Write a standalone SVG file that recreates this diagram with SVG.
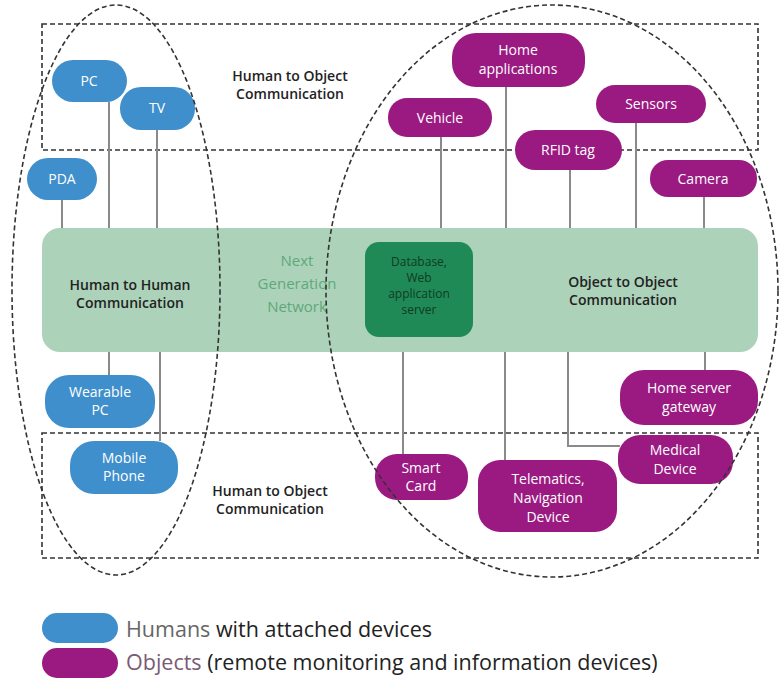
<svg xmlns="http://www.w3.org/2000/svg" width="779" height="679" viewBox="0 0 779 679">
<style>
text{font-family:"Open Sans","Liberation Sans",sans-serif}
.h rect{fill:#3f8fcc}
.o rect{fill:#9b1a82}
.nt{fill:#fff;font-size:14px;text-anchor:middle}
.lbl{fill:#222;font-size:14px;text-anchor:middle;font-weight:600}
.dash{fill:none;stroke:#333;stroke-width:1.6;stroke-dasharray:5 3}
.c line,.c polyline{stroke:#8a8a8a;stroke-width:2;fill:none}
</style>
<rect width="779" height="679" fill="#fff"/>
<g id="zones">
<rect class="dash" x="42" y="24" width="716" height="126"/>
<rect class="dash" x="42" y="433" width="716" height="125"/>
</g>
<g id="network">
<rect x="42" y="228" width="716" height="124" rx="18" fill="#acd3b9"/>
<text x="297" y="266" fill="#5fa87a" font-size="15" text-anchor="middle">Next</text>
<text x="297" y="289" fill="#5fa87a" font-size="15" text-anchor="middle">Generation</text>
<text x="297" y="312" fill="#5fa87a" font-size="15" text-anchor="middle">Network</text>
<text class="lbl" x="130" y="290">Human to Human</text>
<text class="lbl" x="130" y="308">Communication</text>
<text class="lbl" x="623" y="287">Object to Object</text>
<text class="lbl" x="623" y="305">Communication</text>
</g>
<g id="server">
<rect x="365" y="242" width="108" height="95" rx="14" fill="#1f8a55"/>
<text x="419" y="266" fill="#0f3b24" font-size="12" text-anchor="middle">Database,</text>
<text x="419" y="282" fill="#0f3b24" font-size="12" text-anchor="middle">Web</text>
<text x="419" y="298" fill="#0f3b24" font-size="12" text-anchor="middle">application</text>
<text x="419" y="314" fill="#0f3b24" font-size="12" text-anchor="middle">server</text>
</g>
<g class="c" id="connectors">
<line x1="62" y1="200" x2="62" y2="228"/>
<line x1="109" y1="102" x2="109" y2="228"/>
<line x1="157" y1="130" x2="157" y2="228"/>
<line x1="109" y1="352" x2="109" y2="375"/>
<line x1="160" y1="352" x2="160" y2="441"/>
<line x1="441" y1="137" x2="441" y2="228"/>
<line x1="506" y1="87" x2="506" y2="228"/>
<line x1="570" y1="170" x2="570" y2="228"/>
<line x1="636" y1="123" x2="636" y2="228"/>
<line x1="704" y1="197" x2="704" y2="228"/>
<line x1="705" y1="352" x2="705" y2="370"/>
<line x1="403" y1="352" x2="403" y2="454"/>
<line x1="505" y1="352" x2="505" y2="460"/>
<polyline points="568,352 568,446 620,446"/>
</g>
<g id="pc" class="h"><rect x="52" y="60" width="75" height="42" rx="21"/><text class="nt" x="89" y="86">PC</text></g>
<g id="tv" class="h"><rect x="120" y="87" width="75" height="43" rx="21"/><text class="nt" x="157" y="113">TV</text></g>
<g id="pda" class="h"><rect x="27" y="158" width="70" height="42" rx="21"/><text class="nt" x="62" y="184">PDA</text></g>
<g id="wearable" class="h"><rect x="45" y="375" width="110" height="53" rx="24"/><text class="nt" x="100" y="397">Wearable</text><text class="nt" x="100" y="415">PC</text></g>
<g id="mobile" class="h"><rect x="70" y="441" width="108" height="53" rx="24"/><text class="nt" x="124" y="463">Mobile</text><text class="nt" x="124" y="481">Phone</text></g>
<g id="homeapp" class="o"><rect x="452" y="33" width="133" height="54" rx="24"/><text class="nt" x="518" y="55">Home</text><text class="nt" x="518" y="74">applications</text></g>
<g id="vehicle" class="o"><rect x="388" y="98" width="104" height="39" rx="19"/><text class="nt" x="440" y="123">Vehicle</text></g>
<g id="sensors" class="o"><rect x="596" y="85" width="110" height="38" rx="19"/><text class="nt" x="651" y="109">Sensors</text></g>
<g id="rfid" class="o"><rect x="515" y="130" width="107" height="40" rx="20"/><text class="nt" x="568" y="155">RFID tag</text></g>
<g id="camera" class="o"><rect x="650" y="160" width="107" height="37" rx="18"/><text class="nt" x="703" y="184">Camera</text></g>
<g id="homeserver" class="o"><rect x="620" y="370" width="138" height="55" rx="24"/><text class="nt" x="689" y="393">Home server</text><text class="nt" x="689" y="412">gateway</text></g>
<g id="medical" class="o"><rect x="618" y="435" width="115" height="49" rx="22"/><text class="nt" x="675" y="455">Medical</text><text class="nt" x="675" y="474">Device</text></g>
<g id="smartcard" class="o"><rect x="375" y="454" width="93" height="46" rx="22"/><text class="nt" x="421" y="473">Smart</text><text class="nt" x="421" y="491">Card</text></g>
<g id="telematics" class="o"><rect x="478" y="460" width="139" height="72" rx="22"/><text class="nt" x="548" y="484">Telematics,</text><text class="nt" x="548" y="503">Navigation</text><text class="nt" x="548" y="522">Device</text></g>
<g id="ellipses">
<ellipse class="dash" cx="116" cy="290" rx="104" ry="285"/>
<ellipse class="dash" cx="552" cy="291" rx="226" ry="286"/>
</g>
<g id="zonelabels">
<text class="lbl" x="290" y="81">Human to Object</text>
<text class="lbl" x="290" y="99">Communication</text>
<text class="lbl" x="270" y="496">Human to Object</text>
<text class="lbl" x="270" y="514">Communication</text>
</g>
<g id="legend">
<rect x="42" y="613" width="76" height="30" rx="15" fill="#3f8fcc"/>
<rect x="42" y="648" width="76" height="30" rx="15" fill="#9b1a82"/>
<text x="126" y="637" font-size="21.5" fill="#222"><tspan fill="#666">Humans</tspan> with attached devices</text>
<text x="126" y="670" font-size="21.5" fill="#222"><tspan fill="#7a5a75">Objects</tspan> (remote monitoring and information devices)</text>
</g>
</svg>
